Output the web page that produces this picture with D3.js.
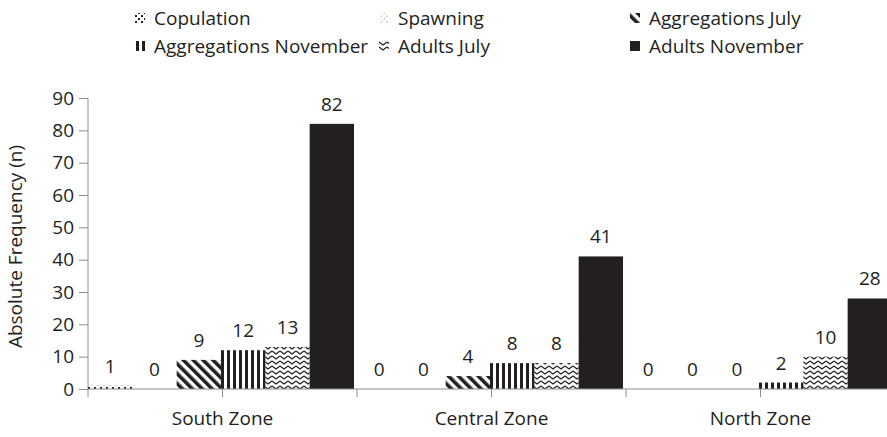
<!DOCTYPE html>
<meta charset="utf-8">
<style>
body { margin: 0; background: #fff; }
text { font-family: "Open Sans", sans-serif; fill: #231f20; }
</style>
<body>
<svg width="887" height="437"></svg>
</body>
<script src="https://d3js.org/d3.v7.min.js"></script>
<script>

var zones = ["South Zone", "Central Zone", "North Zone"];
var seriesNames = ["Copulation", "Spawning", "Aggregations July", "Aggregations November", "Adults July", "Adults November"];
var copulation = [1, 0, 0];
var spawning = [0, 0, 0];
var aggregationsJuly = [9, 4, 0];
var aggregationsNovember = [12, 8, 2];
var adultsJuly = [13, 8, 10];
var adultsNovember = [82, 41, 28];
var yTicks = [0, 10, 20, 30, 40, 50, 60, 70, 80, 90];

var values = [copulation, spawning, aggregationsJuly, aggregationsNovember, adultsJuly, adultsNovember];
var data = zones.map(function(z, i) {
  return { zone: z, bars: seriesNames.map(function(s, j) { return { key: s, idx: j, value: values[j][i] }; }) };
});

var svg = d3.select("svg"),
    ink = "#231f20",
    axisColor = "#8c8c8c",
    fontSize = "19px";

var defs = svg.append("defs");

// copulation: scattered small dots
var p0 = defs.append("pattern").attr("id", "p0").attr("patternUnits", "userSpaceOnUse")
    .attr("width", 6).attr("height", 6);
p0.append("rect").attr("x", 0).attr("y", 3).attr("width", 2).attr("height", 2).attr("fill", ink);
p0.append("rect").attr("x", 3).attr("y", 0).attr("width", 2).attr("height", 2).attr("fill", ink);

// spawning: light dashes
var p1 = defs.append("pattern").attr("id", "p1").attr("patternUnits", "userSpaceOnUse")
    .attr("width", 4).attr("height", 4).attr("patternTransform", "rotate(45)");
p1.append("line").attr("x1", 0).attr("y1", 0).attr("x2", 0).attr("y2", 2)
    .attr("stroke", "#666").attr("stroke-width", 1);

// aggregations july: thick diagonal stripes
var p2 = defs.append("pattern").attr("id", "p2").attr("patternUnits", "userSpaceOnUse")
    .attr("width", 7).attr("height", 7).attr("patternTransform", "rotate(-45)");
p2.append("rect").attr("x", 0).attr("y", 0).attr("width", 3.6).attr("height", 7).attr("fill", ink);

// aggregations november: vertical stripes
var p3 = defs.append("pattern").attr("id", "p3").attr("patternUnits", "userSpaceOnUse")
    .attr("width", 6).attr("height", 6).attr("x", 1);
p3.append("rect").attr("x", 0).attr("y", 0).attr("width", 3).attr("height", 6).attr("fill", ink);

// adults july: zigzag
var p4 = defs.append("pattern").attr("id", "p4").attr("patternUnits", "userSpaceOnUse")
    .attr("width", 8).attr("height", 5);
p4.append("path").attr("d", "M0,1 L4,4 L8,1").attr("fill", "none")
    .attr("stroke", ink).attr("stroke-width", 1.3);

var fills = ["url(#p0)", "url(#p1)", "url(#p2)", "url(#p3)", "url(#p4)", ink];

var x0 = d3.scaleBand().domain(zones).range([88, 895]).padding(0);
var x1 = d3.scaleBand().domain(seriesNames).range([0, x0.bandwidth() - 3]).padding(0);
var y = d3.scaleLinear().domain([0, 90]).range([389, 98]);

// y axis
var yAxis = svg.append("g").attr("transform", "translate(88,0)")
    .call(d3.axisLeft(y).tickValues(yTicks).tickSize(9).tickPadding(5));
yAxis.select(".domain").attr("stroke", axisColor).attr("d", "M0," + y(90) + "V" + y(0));
yAxis.selectAll(".tick line").attr("stroke", axisColor);
yAxis.selectAll(".tick text").style("font-size", fontSize).attr("fill", ink)
    .style("font-family", "'Open Sans', sans-serif");

svg.append("text")
    .attr("transform", "translate(22," + ((y(0) + y(90)) / 2 + 3) + ") rotate(-90)")
    .attr("text-anchor", "middle")
    .style("font-size", fontSize)
    .text("Absolute Frequency (n)");

// bars
var groups = svg.selectAll(".zone").data(data).enter().append("g")
    .attr("class", "zone")
    .attr("transform", function(d) { return "translate(" + x0(d.zone) + ",0)"; });

groups.selectAll("rect").data(function(d) { return d.bars; }).enter().append("rect")
    .attr("x", function(d) { return x1(d.key); })
    .attr("y", function(d) { return y(d.value); })
    .attr("width", x1.bandwidth())
    .attr("height", function(d) { return y(0) - y(d.value); })
    .attr("fill", function(d) { return fills[d.idx]; });

groups.selectAll(".val").data(function(d) { return d.bars; }).enter().append("text")
    .attr("class", "val")
    .attr("x", function(d) { return x1(d.key) + x1.bandwidth() / 2; })
    .attr("y", function(d) { return y(d.value) - 13; })
    .attr("text-anchor", "middle")
    .style("font-size", fontSize)
    .text(function(d) { return d.value; });

// x axis
svg.append("line").attr("x1", 88).attr("x2", 895).attr("y1", y(0)).attr("y2", y(0))
    .attr("stroke", axisColor);
var xTickPos = [];
zones.forEach(function(z) {
  xTickPos.push(x0(z));
  xTickPos.push(x0(z) + x0.bandwidth() / 2);
});
svg.selectAll(".xtick").data(xTickPos).enter().append("line")
    .attr("class", "xtick")
    .attr("x1", function(d) { return d; }).attr("x2", function(d) { return d; })
    .attr("y1", y(0)).attr("y2", y(0) + 8)
    .attr("stroke", axisColor);
svg.selectAll(".xlab").data(zones).enter().append("text")
    .attr("class", "xlab")
    .attr("x", function(d) { return x0(d) + x0.bandwidth() / 2; })
    .attr("y", 425)
    .attr("text-anchor", "middle")
    .style("font-size", fontSize)
    .text(function(d) { return d; });

// legend
var legendX = [135, 379, 630],
    legendY = [18, 46];
var legend = svg.selectAll(".leg").data(seriesNames).enter().append("g")
    .attr("class", "leg")
    .attr("transform", function(d, i) { return "translate(" + legendX[i % 3] + "," + legendY[Math.floor(i / 3)] + ")"; });
legend.append("rect")
    .attr("x", 0).attr("y", -5).attr("width", 10).attr("height", 10)
    .attr("fill", function(d, i) { return fills[i]; });
legend.append("text")
    .attr("x", 19).attr("y", 7)
    .style("font-size", fontSize)
    .text(function(d) { return d; });

</script>
